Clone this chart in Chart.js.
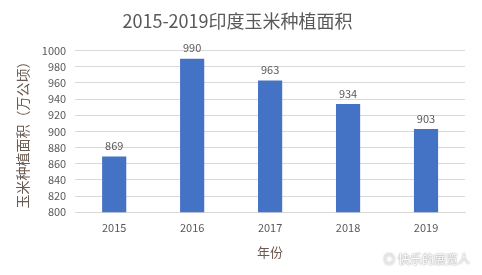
<!DOCTYPE html>
<html>
<head>
<meta charset="utf-8">
<script src="https://cdn.jsdelivr.net/npm/chart.js@4"></script>
<style>
  html, body { margin: 0; padding: 0; background: #fff; }
  #wrap { position: relative; width: 482px; height: 275px; }
  #mark { position: absolute; right: 12px; top: 250px; font: 12px "Noto Sans CJK SC"; color: #fff;
          text-shadow: 0 0 2px #999, 0 0 1px #aaa; }
</style>
</head>
<body>
<div id="wrap">
  <canvas id="chart" width="482" height="275"></canvas>
  <div id="mark">◎ 快乐的展览人</div>
</div>
<script>
  // 資料
  const years = ['2015', '2016', '2017', '2018', '2019']
  const area = [869, 990, 963, 934, 903]
  const yMin = 800
  const yMax = 1000
  const yStep = 20

  const textColor = '#595959'
  const fontFamily = '"Noto Sans CJK SC", "Microsoft YaHei", sans-serif'

  // 在柱子上方畫數值
  const barLabels = {
    id: 'barLabels',
    afterDatasetsDraw(chart) {
      const ctx = chart.ctx
      const meta = chart.getDatasetMeta(0)
      ctx.save()
      ctx.fillStyle = textColor
      ctx.font = '11px ' + fontFamily
      ctx.textAlign = 'center'
      ctx.textBaseline = 'bottom'
      meta.data.forEach((bar, i) => {
        ctx.fillText(chart.data.datasets[0].data[i], bar.x, bar.y - 5)
      })
      ctx.restore()
    }
  }

  new Chart(document.getElementById('chart'), {
    type: 'bar',
    data: {
      labels: years,
      datasets: [{
        data: area,
        backgroundColor: '#4472C4',
        categoryPercentage: 1,
        barPercentage: 0.31
      }]
    },
    options: {
      responsive: false,
      animation: false,
      layout: { padding: { left: 10, right: 17, top: 4, bottom: 11 } },
      plugins: {
        legend: { display: false },
        tooltip: { enabled: false },
        title: {
          display: true,
          text: '2015-2019印度玉米种植面积',
          color: textColor,
          font: { size: 18, family: fontFamily, weight: 'normal' },
          padding: { top: 6, bottom: 19 }
        }
      },
      scales: {
        x: {
          grid: { display: false, drawTicks: false },
          border: { color: '#d9d9d9' },
          ticks: { color: textColor, font: { size: 11, family: fontFamily }, padding: 9 },
          title: {
            display: true,
            text: '年份',
            color: '#6b5a50',
            font: { size: 13, family: fontFamily },
            padding: { top: 1 }
          }
        },
        y: {
          min: yMin,
          max: yMax,
          grid: { color: '#d9d9d9', drawTicks: false },
          border: { display: false },
          ticks: {
            stepSize: yStep,
            autoSkip: false,
            color: textColor,
            font: { size: 11, family: fontFamily },
            padding: 9,
            callback: v => String(v)
          },
          title: {
            display: true,
            text: '玉米种植面积（万公顷）',
            color: '#6b5a50',
            font: { size: 14, family: fontFamily },
            padding: { bottom: 2 }
          }
        }
      }
    },
    plugins: [barLabels]
  })
</script>
</body>
</html>
